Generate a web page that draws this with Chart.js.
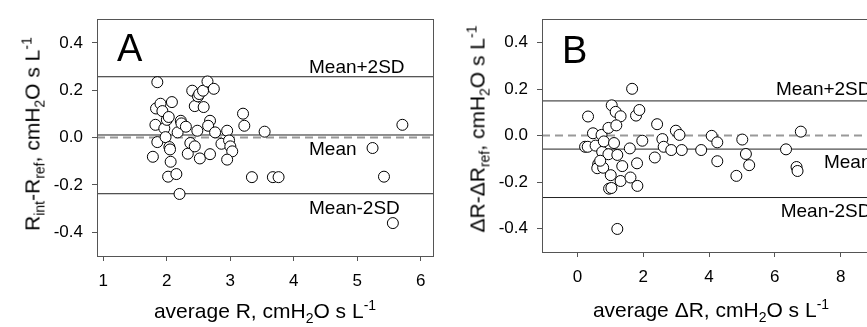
<!DOCTYPE html>
<html>
<head>
<meta charset="utf-8">
<script src="https://cdn.jsdelivr.net/npm/chart.js@4/dist/chart.umd.min.js"></script>
<style>
  body { margin: 0; width: 867px; height: 327px; overflow: hidden; background: #fff; position: relative;
         font-family: "Liberation Sans", Arial, sans-serif; }
  .panel { position: absolute; top: 0; }
  #wrapA { left: 0; }
  #wrapB { left: 440px; }
  .ttl { position: absolute; font-size: 21px; line-height: 21px; white-space: nowrap; color: #000; }
  .ttl sub, .ttl sup { font-size: 14px; line-height: 0; }
  .xt { transform: translateX(-50%); }
  .yt { transform: translate(-50%, -50%) rotate(-90deg); }
</style>
</head>
<body>
<div class="panel" id="wrapA"><canvas id="chartA" width="440" height="327"></canvas></div>
<div class="panel" id="wrapB"><canvas id="chartB" width="440" height="327"></canvas></div>

<div class="ttl yt" style="left:32px; top:134px;">R<sub>int</sub>-R<sub>ref</sub>, cmH<sub>2</sub>O s L<sup>-1</sup></div>
<div class="ttl xt" style="left:265px; top:300px;">average R, cmH<sub>2</sub>O s L<sup>-1</sup></div>
<div class="ttl yt" style="left:477px; top:129px;">&Delta;R-&Delta;R<sub>ref</sub>, cmH<sub>2</sub>O s L<sup>-1</sup></div>
<div class="ttl xt" style="left:711px; top:299px;">average &Delta;R, cmH<sub>2</sub>O s L<sup>-1</sup></div>

<script>
// Panel A : R_int - R_ref contre R moyen
const aX = [1.85, 1.78, 1.82, 1.83, 1.90, 1.93, 1.85, 1.96, 1.98, 2.00,
            2.03, 2.04, 2.02, 2.06, 2.15, 2.08, 2.20, 2.17, 2.22, 2.23,
            2.30, 2.33, 2.37, 2.44, 2.40, 2.44, 2.49, 2.51, 2.48, 2.52,
            2.57, 2.58, 2.64, 2.74, 2.68, 2.65, 2.68, 2.76, 2.86, 2.95,
            2.98, 3.00, 3.03, 2.95, 3.20, 3.22, 3.54, 3.34, 3.67, 3.76,
            5.24, 5.42, 5.56, 5.71, 2.05];
const aY = [0.234, -0.081, 0.054, 0.123, 0.143, 0.112, -0.019, 0.039, 0.002, 0.075,
            0.087, -0.040, -0.165, -0.102, -0.154, 0.150, -0.238, 0.022, 0.071, 0.060,
            0.046, -0.068, -0.023, -0.037, 0.198, 0.133, 0.174, 0.184, 0.029, -0.088,
            0.198, 0.129, 0.237, 0.206, 0.071, 0.050, -0.070, 0.022, -0.026, 0.029,
            -0.012, -0.037, -0.058, -0.093, 0.101, 0.050, 0.025, -0.167, -0.167, -0.167,
            -0.044, -0.165, -0.361, 0.054, -0.050];
const aLimits = [0.257, 0.011, -0.237];
const aXTicks = [1, 2, 3, 4, 5, 6];

// Panel B : delta R - delta R_ref contre delta R moyen
const bX = [0.32, 0.23, 0.31, 0.47, 0.55, 0.63, 0.60, 0.73, 0.75, 0.80,
            0.78, 0.94, 0.94, 1.01, 0.96, 1.03, 1.04, 1.16, 1.31, 1.18,
            1.11, 1.21, 1.36, 1.31, 1.21, 1.59, 1.61, 1.66, 1.78, 1.88,
            1.81, 1.82, 1.97, 2.35, 2.42, 2.58, 2.62, 2.85, 2.99, 3.10,
            3.17, 3.76, 4.08, 4.25, 4.25, 4.83, 5.01, 5.12, 5.22, 6.34,
            6.66, 6.69, 6.79, 0.69];
const bY = [0.082, -0.048, -0.048, 0.010, -0.043, -0.122, -0.140, 0.003, -0.070, -0.025,
            -0.138, 0.033, -0.080, -0.170, -0.228, -0.225, 0.130, 0.102, 0.083, 0.044,
            -0.032, -0.083, -0.131, -0.195, -0.401, -0.055, -0.180, 0.201, 0.086, 0.110,
            -0.119, -0.216, -0.022, -0.094, 0.049, -0.015, -0.048, -0.062, 0.021, 0.003,
            -0.062, -0.062, -0.001, -0.029, -0.110, -0.173, -0.017, -0.079, -0.127, -0.059,
            -0.135, -0.152, 0.017, -0.108];
const bLimits = [0.149, -0.058, -0.266];
const bXTicks = [0, 2, 4, 6, 8];

const limitLabels = ['Mean+2SD', 'Mean', 'Mean-2SD'];
const yTicks = [-0.4, -0.2, 0.0, 0.2, 0.4];

const FONT = '"Liberation Sans", Arial, sans-serif';

// cadre, lettre du panneau et textes des lignes
const decor = {
    id: 'decor',
    afterDraw(chart, args, opts) {
        const ctx = chart.ctx;
        const a = chart.chartArea;
        const y = chart.scales.y;
        ctx.save();
        ctx.strokeStyle = '#555';
        ctx.lineWidth = 1;
        ctx.strokeRect(Math.round(a.left) + 0.5, Math.round(a.top) + 0.5,
                       Math.round(a.width) - 1, Math.round(a.height));
        ctx.fillStyle = '#000';
        ctx.textBaseline = 'alphabetic';
        ctx.font = '38px ' + FONT;
        ctx.textAlign = 'left';
        ctx.fillText(opts.letter, a.left + 20, a.top + opts.letterDy);

        ctx.font = '19px ' + FONT;
        ctx.textAlign = opts.align;
        const lx = opts.align === 'left' ? a.left + opts.labelDx : a.right - opts.labelDx;
        opts.limits.forEach((v, i) => {
            const py = y.getPixelForValue(v);
            const dy = i === 0 ? opts.above : opts.below;
            ctx.fillText(limitLabels[i], lx, py + dy);
        });
        ctx.restore();
    }
};

function makeChart(id, xs, ys, limits, xTicks, xMin, xMax, lay, deco) {
    const points = xs.map((x, i) => ({ x: x, y: ys[i] }));
    const hLine = (v, color, width, dash) => ({
        type: 'line',
        data: [{ x: xMin, y: v }, { x: xMax, y: v }],
        borderColor: color,
        borderWidth: width,
        borderDash: dash,
        pointRadius: 0,
        order: 2
    });
    const datasets = [
        {
            type: 'scatter',
            data: points,
            pointRadius: 5.5,
            pointBackgroundColor: '#fff',
            pointBorderColor: '#000',
            pointBorderWidth: 1,
            order: 1
        },
        hLine(0, '#999', 2, [8, 5])
    ];
    limits.forEach(v => datasets.push(hLine(v, '#222', 1, [])));

    return new Chart(document.getElementById(id), {
        type: 'scatter',
        data: { datasets: datasets },
        options: {
            responsive: false,
            animation: false,
            events: [],
            layout: { padding: { top: lay.top, right: lay.right, left: 0, bottom: 0 } },
            plugins: {
                legend: { display: false },
                tooltip: { enabled: false },
                decor: deco
            },
            scales: {
                x: {
                    type: 'linear',
                    min: xMin,
                    max: xMax,
                    afterBuildTicks: s => { s.ticks = xTicks.map(v => ({ value: v })); },
                    afterFit: s => { s.height = lay.xH; },
                    grid: { drawOnChartArea: false, drawTicks: true, tickLength: 5, color: '#555' },
                    border: { display: false },
                    ticks: { color: '#000', padding: 10, maxRotation: 0, font: { family: FONT, size: 17 },
                             callback: v => String(v) }
                },
                y: {
                    type: 'linear',
                    min: -0.5,
                    max: 0.5,
                    afterBuildTicks: s => { s.ticks = yTicks.map(v => ({ value: v })); },
                    afterFit: s => { s.width = lay.yW; },
                    grid: { drawOnChartArea: false, drawTicks: true, tickLength: 5, color: '#555' },
                    border: { display: false },
                    ticks: { color: '#000', padding: 9, font: { family: FONT, size: 17 },
                             callback: v => v.toFixed(1) }
                }
            }
        },
        plugins: [decor]
    });
}

makeChart('chartA', aX, aY, aLimits, aXTicks, 0.9, 6.2,
    { top: 14, right: 6, xH: 71, yW: 97 },
    { letter: 'A', letterDy: 42, align: 'left', labelDx: 212, above: -4, below: 20, limits: aLimits });

makeChart('chartB', bX, bY, bLimits, bXTicks, -1.08, 9.0,
    { top: 11, right: 4, xH: 75, yW: 102 },
    { letter: 'B', letterDy: 44, align: 'right', labelDx: 2, above: -6, below: 19, limits: bLimits });
</script>
</body>
</html>
